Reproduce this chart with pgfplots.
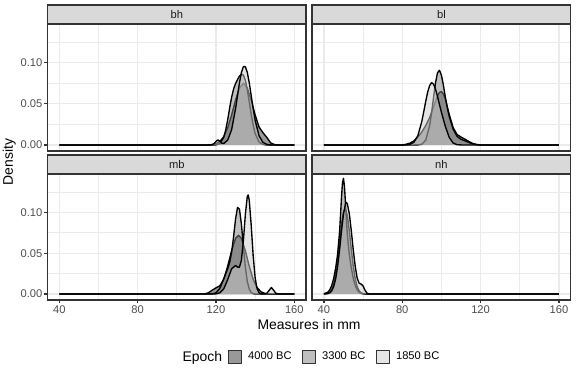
\documentclass[border=0pt]{standalone}
\usepackage{fontspec}
\setmainfont{Liberation Sans}
\usepackage{pgfplots}
\pgfplotsset{compat=1.18}
\definecolor{grey10}{HTML}{1A1A1A}
\definecolor{grey20}{HTML}{333333}
\definecolor{grey30}{HTML}{4D4D4D}
\definecolor{grey50}{HTML}{7F7F7F}
\definecolor{grey80}{HTML}{CCCCCC}
\definecolor{grey85}{HTML}{D9D9D9}
\definecolor{grey92}{HTML}{EBEBEB}
\pgfplotsset{
  panel/.style={
    scale only axis, width=204pt, anchor=south west,
    xmin=34, xmax=166, ymin=-0.0073, ymax=0.147,
    xtick={40,80,120,160}, minor xtick={60,100,140},
    ytick={0,0.05,0.1}, minor ytick={0.025,0.075,0.125},
    scaled y ticks=false,
    grid=both,
    major grid style={grey92, line width=1.07pt},
    minor grid style={grey92, line width=0.53pt},
    axis line style={grey20, line width=1.07pt},
    tick align=outside, tick pos=left,
    major tick length=2.75pt, minor tick length=0pt,
    tick style={grey20, line width=1.07pt},
    tick label style={font=\fontsize{8.8}{10}\selectfont, text=grey30, inner sep=1.2pt},
    xticklabel style={/pgf/number format/assume math mode=true},
    yticklabel style={/pgf/number format/.cd, fixed, fixed zerofill, precision=2, assume math mode=true},
    every axis plot/.append style={draw=black, line width=1.07pt, line join=round},
  },
  top/.style={xticklabels={}, xtick style={draw=none}},
  right/.style={yticklabels={}, ytick style={draw=none}},
  e4000/.style={fill=grey20, fill opacity=0.5},
  e3300/.style={fill=grey50, fill opacity=0.5},
  e1850/.style={fill=grey80, fill opacity=0.5},
}
\begin{document}
\begin{tikzpicture}
\useasboundingbox (0,0) rectangle (454.5pt,294.3pt);

% bh
\begin{axis}[panel, top, at={(37.5pt,175.2pt)}, height=100.2pt]
\addplot[e4000] coordinates {(40,0)(116,0)(118,0.0004)(120,0.0015)(122,0.0042)(124,0.0101)(126,0.0209)(128,0.0365)(130,0.0545)(132,0.0692)(134,0.075)(136,0.0692)(138,0.0545)(140,0.0365)(142,0.0217)(144,0.0149)(146,0.0090)(148,0.0023)(150,0.0004)(152,0)(160,0)};
\addplot[e3300] coordinates {(40,0)(118,0)(120,0.0001)(122,0.0016)(124,0.0095)(125,0.0185)(126,0.0308)(127,0.045)(128,0.058)(129,0.068)(130,0.0747)(131,0.0795)(132,0.0836)(133,0.0861)(134,0.085)(135,0.0786)(136,0.0672)(137,0.0522)(138,0.0371)(139,0.0239)(140,0.0139)(142,0.0035)(144,0.0006)(146,0)(160,0)};
\addplot[e1850] coordinates {(40,0)(117,0)(118,0.0003)(119,0.0016)(120,0.0042)(121,0.0061)(122,0.0044)(123,0.0021)(124,0.0017)(126,0.0059)(128,0.0186)(130,0.044)(131,0.0598)(132,0.0755)(133,0.088)(134,0.0951)(135,0.0951)(136,0.088)(137,0.0755)(138,0.0598)(139,0.044)(140,0.0299)(142,0.011)(144,0.003)(146,0.0006)(148,0)(160,0)};
\end{axis}

% bl
\begin{axis}[panel, top, right, at={(246.3pt,175.2pt)}, height=100.2pt]
\addplot[e4000] coordinates {(40,0)(80,0)(82,0.0008)(84,0.0022)(86,0.005)(88,0.0095)(90,0.0158)(92,0.0235)(94,0.0334)(96,0.0463)(98,0.0597)(99,0.0638)(100,0.0648)(101,0.062)(102,0.0556)(104,0.0371)(106,0.021)(108,0.0127)(110,0.0096)(112,0.007)(114,0.0042)(116,0.0018)(118,0.0006)(120,0)(160,0)};
\addplot[e3300] coordinates {(40,0)(86,0)(88,0.0001)(90,0.0008)(92,0.0058)(94,0.0234)(95,0.0393)(96,0.0581)(97,0.0757)(98,0.0877)(99,0.0907)(100,0.0847)(101,0.0727)(102,0.0583)(103,0.0452)(104,0.0344)(106,0.0191)(108,0.0104)(110,0.0068)(112,0.0051)(114,0.003)(116,0.0012)(118,0.0003)(120,0)(160,0)};
\addplot[e1850] coordinates {(40,0)(80,0)(82,0.0001)(84,0.0007)(86,0.0033)(88,0.0114)(90,0.0286)(91,0.0405)(92,0.0531)(93,0.0643)(94,0.0722)(95,0.0757)(96,0.0738)(97,0.0676)(98,0.0589)(99,0.0492)(100,0.0397)(102,0.0225)(104,0.0091)(106,0.0023)(108,0.0003)(110,0)(160,0)};
\end{axis}

% mb
\begin{axis}[panel, at={(37.5pt,57.6pt)}, height=99.4pt,
  legend style={at={(1.0118,-0.4527)}, anchor=center, draw=none, fill=none,
    font=\fontsize{8.8}{10}\selectfont, legend columns=-1,
    /tikz/every odd column/.append style={column sep=3pt},
    /tikz/every even column/.append style={column sep=6pt}},
  legend image code/.code={\draw[#1, line width=0.6pt, draw=grey20] (0pt,-5.25pt) rectangle (10.5pt,5.25pt);}]
\addlegendimage{empty legend}
\addlegendentry{\fontsize{11}{13}\selectfont Epoch\hspace*{-3.5pt}}
\addplot[e4000] coordinates {(40,0)(112,0)(114,0.0001)(116,0.0013)(118,0.0046)(120,0.0075)(122,0.0101)(124,0.0183)(126,0.0342)(128,0.0531)(130,0.0681)(131.5,0.072)(133,0.0681)(135,0.0531)(137,0.0342)(139,0.0179)(141,0.0078)(143,0.0027)(145,0.0008)(147,0.0002)(149,0)(160,0)};
\addlegendentry{4000 BC}
\addplot[e3300] coordinates {(40,0)(116,0)(118,0.0002)(120,0.0014)(122,0.007)(124,0.0187)(126,0.031)(127,0.0386)(128,0.0513)(129,0.0704)(130,0.0919)(131,0.106)(132,0.104)(133,0.0854)(134,0.0582)(135,0.0331)(136,0.0154)(137,0.006)(138,0.0019)(139,0.0005)(140,0)(160,0)};
\addlegendentry{3300 BC}
\addplot[e1850] coordinates {(40,0)(118,0)(120,0.0002)(122,0.0015)(124,0.0065)(126,0.0177)(128,0.0309)(130,0.0349)(131,0.033)(132,0.0329)(133,0.0416)(134,0.0652)(135,0.0972)(136,0.1197)(136.5,0.1213)(137,0.1147)(138,0.0841)(139,0.0468)(140,0.0199)(141,0.0063)(142,0.0015)(143,0.0003)(144,0)(145,0)(146,0.0009)(147,0.004)(148.3,0.008)(149.5,0.0044)(150.5,0.0011)(152,0)(160,0)};
\addlegendentry{1850 BC}
\end{axis}

% nh
\begin{axis}[panel, right, at={(246.3pt,57.6pt)}, height=99.4pt]
\addplot[e4000] coordinates {(40,0.0001)(42,0.0008)(43,0.0022)(44,0.0055)(45,0.0123)(46,0.0243)(47,0.0417)(48,0.0637)(49,0.0854)(50,0.1008)(51,0.1047)(52,0.0958)(53,0.0771)(54,0.0546)(55,0.0341)(56,0.0186)(57,0.0091)(58,0.0039)(59,0.0014)(60,0.0005)(62,0)(160,0)};
\addplot[e3300] coordinates {(40,0.0003)(42,0.0022)(43,0.0051)(44,0.0104)(45,0.0192)(46,0.0318)(47,0.0487)(48,0.0762)(48.5,0.097)(49,0.1193)(49.5,0.1367)(50,0.1417)(50.5,0.1319)(51,0.1122)(51.5,0.0907)(52,0.0721)(53,0.0479)(54,0.0317)(55,0.0192)(56,0.0104)(57,0.0051)(58,0.0022)(59,0.0009)(60,0.0003)(62,0)(160,0)};
\addplot[e1850] coordinates {(40,0)(42,0.0005)(43,0.0015)(44,0.0039)(45,0.0091)(46,0.0184)(47,0.0337)(48,0.0539)(49,0.0773)(50,0.098)(51,0.1103)(51.5,0.112)(52,0.1103)(53,0.098)(54,0.0773)(55,0.0539)(56,0.0338)(57,0.0194)(58,0.0132)(59,0.0122)(60,0.0098)(61,0.0046)(62,0.001)(63,0.0002)(64,0)(160,0)};
\end{axis}

% facet strips
\foreach \x/\y/\lab in {37.5/275.4/bh, 246.3/275.4/bl, 37.5/157.0/mb, 246.3/157.0/nh} {
  \draw[grey20, line width=1.07pt, fill=grey85] (\x pt,\y pt) rectangle ++(204pt,15pt);
  \node[font=\fontsize{8.8}{10}\selectfont, text=grey10] at (\x pt+102pt,\y pt+7.5pt) {\lab};
}

% axis titles
\node[font=\fontsize{11}{13}\selectfont, rotate=90] at (7.4pt,166.5pt) {Density};
\node[font=\fontsize{11}{13}\selectfont] at (243.9pt,38.3pt) {Measures in mm};
\end{tikzpicture}
\end{document}
